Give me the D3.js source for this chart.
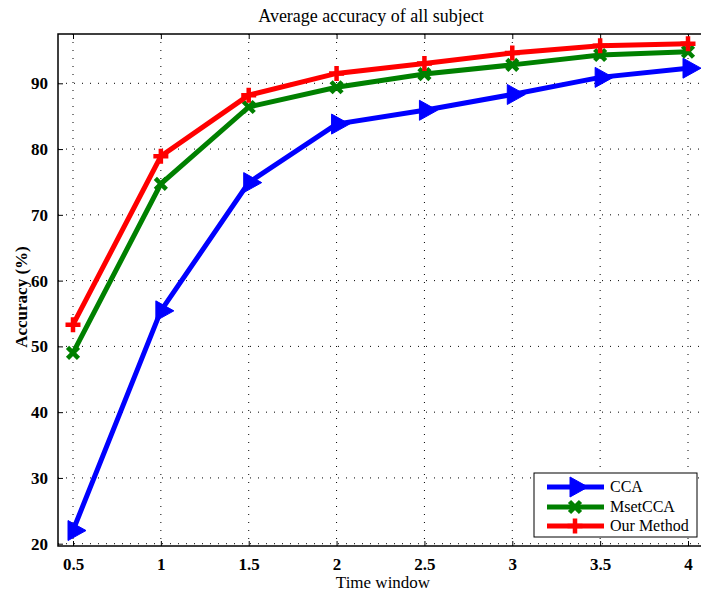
<!DOCTYPE html>
<html><head><meta charset="utf-8">
<script src="https://cdn.jsdelivr.net/npm/d3@7"></script>
<style>body{margin:0;background:#fff}svg{display:block}</style>
</head><body><svg id="c" width="701" height="592"></svg>
<script>
const timeWindows = [0.5, 1, 1.5, 2, 2.5, 3, 3.5, 4];
const ccaValues = [22.0, 55.4, 74.9, 83.8, 85.9, 88.3, 90.9, 92.3];
const msetValues = [49.0, 74.7, 86.4, 89.4, 91.4, 92.8, 94.3, 94.8];
const oursValues = [53.3, 78.9, 88.2, 91.5, 93.0, 94.6, 95.7, 96.0];
const seriesNames = ["CCA", "MsetCCA", "Our Method"];
const xTicks = [0.5, 1, 1.5, 2, 2.5, 3, 3.5, 4];
const xTickLabels = ["0.5", "1", "1.5", "2", "2.5", "3", "3.5", "4"];
const yTicks = [20, 30, 40, 50, 60, 70, 80, 90];
const titleText = "Average accuracy of all subject";
const xLabel = "Time window";
const yLabel = "Accuracy (%)";

const svg = d3.select("#c");
const L = 58, R = 708, T = 34, B = 546;
const x = d3.scaleLinear().domain([0.5, 4]).range([73, 688]);
const y = d3.scaleLinear().domain([20, 90]).range([543.7, 83.3]);
const font = "'Liberation Serif', 'Times New Roman', serif";

// grid
const g = svg.append("g");
g.selectAll(".vg").data(xTicks).enter().append("line")
  .attr("x1", d => x(d)).attr("x2", d => x(d)).attr("y1", T).attr("y2", B)
  .attr("stroke", "#000").attr("stroke-width", 1).attr("stroke-dasharray", "1,7");
g.selectAll(".hg").data(yTicks).enter().append("line")
  .attr("x1", L).attr("x2", R).attr("y1", d => y(d)).attr("y2", d => y(d))
  .attr("stroke", "#000").attr("stroke-width", 1).attr("stroke-dasharray", "1,7");

// axes with inward ticks
const xAxisB = d3.axisBottom(x).tickValues(xTicks).tickSize(-5).tickFormat((d, i) => xTickLabels[i]).tickPadding(12);
const xAxisT = d3.axisTop(x).tickValues(xTicks).tickSize(-5).tickFormat("");
const yAxisL = d3.axisLeft(y).tickValues(yTicks).tickSize(-5).tickPadding(10);
const styleAxis = sel => {
  sel.select(".domain").remove();
  sel.selectAll("line").attr("stroke", "#000");
  sel.selectAll("text").attr("font-family", font).attr("font-size", 17).attr("font-weight", "bold").attr("fill", "#000");
};
svg.append("g").attr("transform", `translate(0,${B})`).call(xAxisB).call(styleAxis);
svg.append("g").attr("transform", `translate(0,${T})`).call(xAxisT).call(styleAxis);
svg.append("g").attr("transform", `translate(${L},0)`).call(yAxisL).call(styleAxis);

svg.append("rect").attr("x", L).attr("y", T).attr("width", R - L).attr("height", B - T)
  .attr("fill", "none").attr("stroke", "#000").attr("stroke-width", 1.5);

const colors = ["#0000ff", "#008000", "#ff0000"];
const allSeries = [ccaValues, msetValues, oursValues];
const line = d3.line().x((d, i) => x(timeWindows[i])).y(d => y(d));

function marker(sel, k, cx, cy) {
  if (k === 0) {
    sel.append("path").attr("d", `M${cx - 5},${cy - 10}L${cx - 5},${cy + 10}L${cx + 13},${cy}Z`)
      .attr("fill", colors[0]).attr("stroke", colors[0]).attr("stroke-width", 1);
  } else if (k === 1) {
    const s = 5.5;
    sel.append("path").attr("d", `M${cx - s},${cy - s}L${cx + s},${cy + s}M${cx - s},${cy + s}L${cx + s},${cy - s}`)
      .attr("stroke", colors[1]).attr("stroke-width", 4.5).attr("fill", "none");
  } else {
    const s = 7.5;
    sel.append("path").attr("d", `M${cx - s},${cy}L${cx + s},${cy}M${cx},${cy - s}L${cx},${cy + s}`)
      .attr("stroke", colors[2]).attr("stroke-width", 4.5).attr("fill", "none");
  }
}

const plot = svg.append("g");
allSeries.forEach((vals, k) => {
  plot.append("path").datum(vals).attr("d", line).attr("fill", "none")
    .attr("stroke", colors[k]).attr("stroke-width", 5).attr("stroke-linejoin", "miter");
  vals.forEach((v, i) => marker(plot, k, x(timeWindows[i]), y(v)));
});

// legend
const lg = svg.append("g");
lg.append("rect").attr("x", 534).attr("y", 473).attr("width", 163).attr("height", 64)
  .attr("fill", "#fff").attr("stroke", "#000").attr("stroke-width", 1);
const ly = [487, 507, 526];
seriesNames.forEach((n, k) => {
  lg.append("line").attr("x1", 547).attr("x2", 604).attr("y1", ly[k]).attr("y2", ly[k])
    .attr("stroke", colors[k]).attr("stroke-width", 5);
  marker(lg, k, 575, ly[k]);
  lg.append("text").attr("x", 610).attr("y", ly[k] + 5).text(n)
    .attr("font-family", font).attr("font-size", 16).attr("fill", "#000");
});

svg.append("text").attr("x", 371).attr("y", 22).attr("text-anchor", "middle")
  .attr("font-family", font).attr("font-size", 18).text(titleText);
svg.append("text").attr("x", 383).attr("y", 588).attr("text-anchor", "middle")
  .attr("font-family", font).attr("font-size", 17).text(xLabel);
svg.append("text").attr("transform", "translate(27,297) rotate(-90)").attr("text-anchor", "middle")
  .attr("font-family", font).attr("font-size", 17).attr("font-weight", "bold").text(yLabel);
</script></body></html>
